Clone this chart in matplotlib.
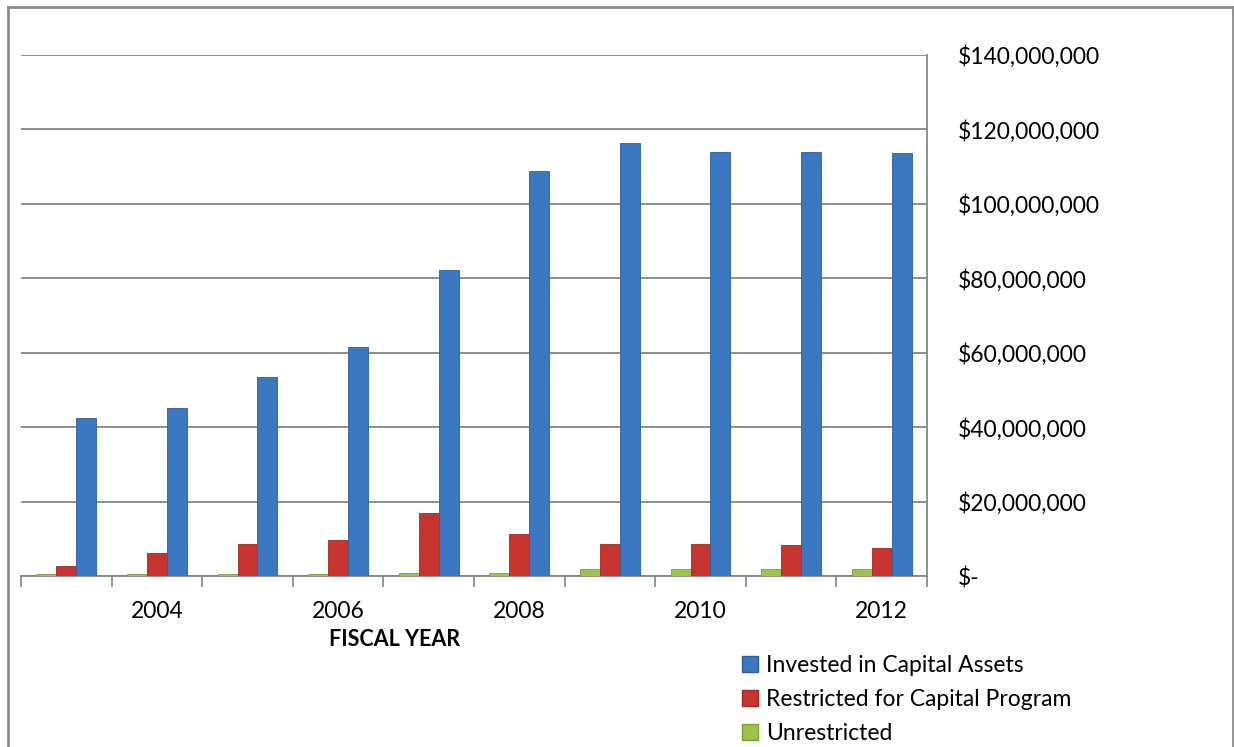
import matplotlib
matplotlib.use("Agg")
import matplotlib.pyplot as plt
from matplotlib.lines import Line2D
from matplotlib.patches import Patch
from matplotlib.ticker import FuncFormatter, FixedLocator
import numpy as np

plt.rcParams['font.family'] = ['Lato', 'DejaVu Sans']

years = [2003, 2004, 2005, 2006, 2007, 2008, 2009, 2010, 2011, 2012]
invested = [42.5e6, 45.2e6, 53.5e6, 61.5e6, 82.2e6, 108.9e6, 116.4e6, 114.0e6, 114.0e6, 113.7e6]
restricted = [2.7e6, 6.2e6, 8.6e6, 9.7e6, 16.9e6, 11.3e6, 8.6e6, 8.6e6, 8.3e6, 7.5e6]
unrestricted = [0.6e6, 0.6e6, 0.6e6, 0.6e6, 0.7e6, 0.7e6, 1.9e6, 1.9e6, 1.9e6, 1.9e6]
series_names = ["Invested in Capital Assets", "Restricted for Capital Program", "Unrestricted"]
label_years = [2004, 2006, 2008, 2010, 2012]

W, H = 1234, 747
fig = plt.figure(figsize=(W / 100, H / 100), dpi=100)
ax = fig.add_axes([21 / W, 171 / H, (927 - 21) / W, 521 / H])

blue = "#3C77C2"
red = "#C8342F"
green = "#9DC348"
x = np.arange(len(years))
bw = 0.22
ax.bar(x - bw, unrestricted, bw, color=green, edgecolor="#7E9E3A", linewidth=0.6, zorder=3)
ax.bar(x, restricted, bw, color=red, edgecolor="#9E2824", linewidth=0.6, zorder=3)
ax.bar(x + bw, invested, bw, color=blue, edgecolor="#2D5D9C", linewidth=0.6, zorder=3)

fs = 16.5
ax.set_xlim(-0.5, len(years) - 0.5)
ax.set_ylim(0, 140e6)
ax.yaxis.tick_right()
ax.set_yticks(np.arange(0, 140e6 + 1, 20e6))
ax.yaxis.set_major_formatter(FuncFormatter(lambda v, p: "$-" if v == 0 else "${:,.0f}".format(v)))
ax.tick_params(axis='y', length=0, pad=22, labelsize=fs)
for t in ax.get_yticklabels():
    t.set_horizontalalignment('left')

pos = [years.index(y) for y in label_years]
ax.set_xticks(pos)
ax.set_xticklabels([str(y) for y in label_years])
ax.tick_params(axis='x', which='major', length=0, pad=18, labelsize=fs)
ax.xaxis.set_minor_locator(FixedLocator(np.arange(-0.5, len(years), 1.0)))
ax.tick_params(axis='x', which='minor', length=8, width=1.3, color="#8C8C8C", direction='out')

ax.grid(axis='y', color="#868686", linewidth=1.3, zorder=0)
ax.set_axisbelow(True)
for s in ['top', 'left']:
    ax.spines[s].set_visible(False)
for s in ['bottom', 'right']:
    ax.spines[s].set_color("#868686")
    ax.spines[s].set_linewidth(1.3)

fig.text(395 / W, 1 - 639 / H, "FISCAL YEAR", ha='center', va='center',
         fontsize=15.5, fontweight='bold')

handles = [Patch(facecolor=blue, edgecolor="#2D5D9C"),
           Patch(facecolor=red, edgecolor="#9E2824"),
           Patch(facecolor=green, edgecolor="#7E9E3A")]
fig.legend(handles, series_names, loc='upper left', bbox_to_anchor=(742 / W, 1 - 655 / H),
           frameon=False, fontsize=fs, handlelength=0.7, handleheight=0.7,
           handletextpad=0.35, labelspacing=0.56, borderaxespad=0, borderpad=0)

# outer chart border
bc = "#8C8C8C"
fig.add_artist(Line2D([8 / W, 8 / W], [0, 1 - 7 / H], color=bc, lw=2, transform=fig.transFigure))
fig.add_artist(Line2D([8 / W, 1233 / W], [1 - 7 / H, 1 - 7 / H], color=bc, lw=2, transform=fig.transFigure))
fig.add_artist(Line2D([1233 / W, 1233 / W], [0, 1 - 7 / H], color=bc, lw=2, transform=fig.transFigure))

fig.savefig("out.png", dpi=100)
